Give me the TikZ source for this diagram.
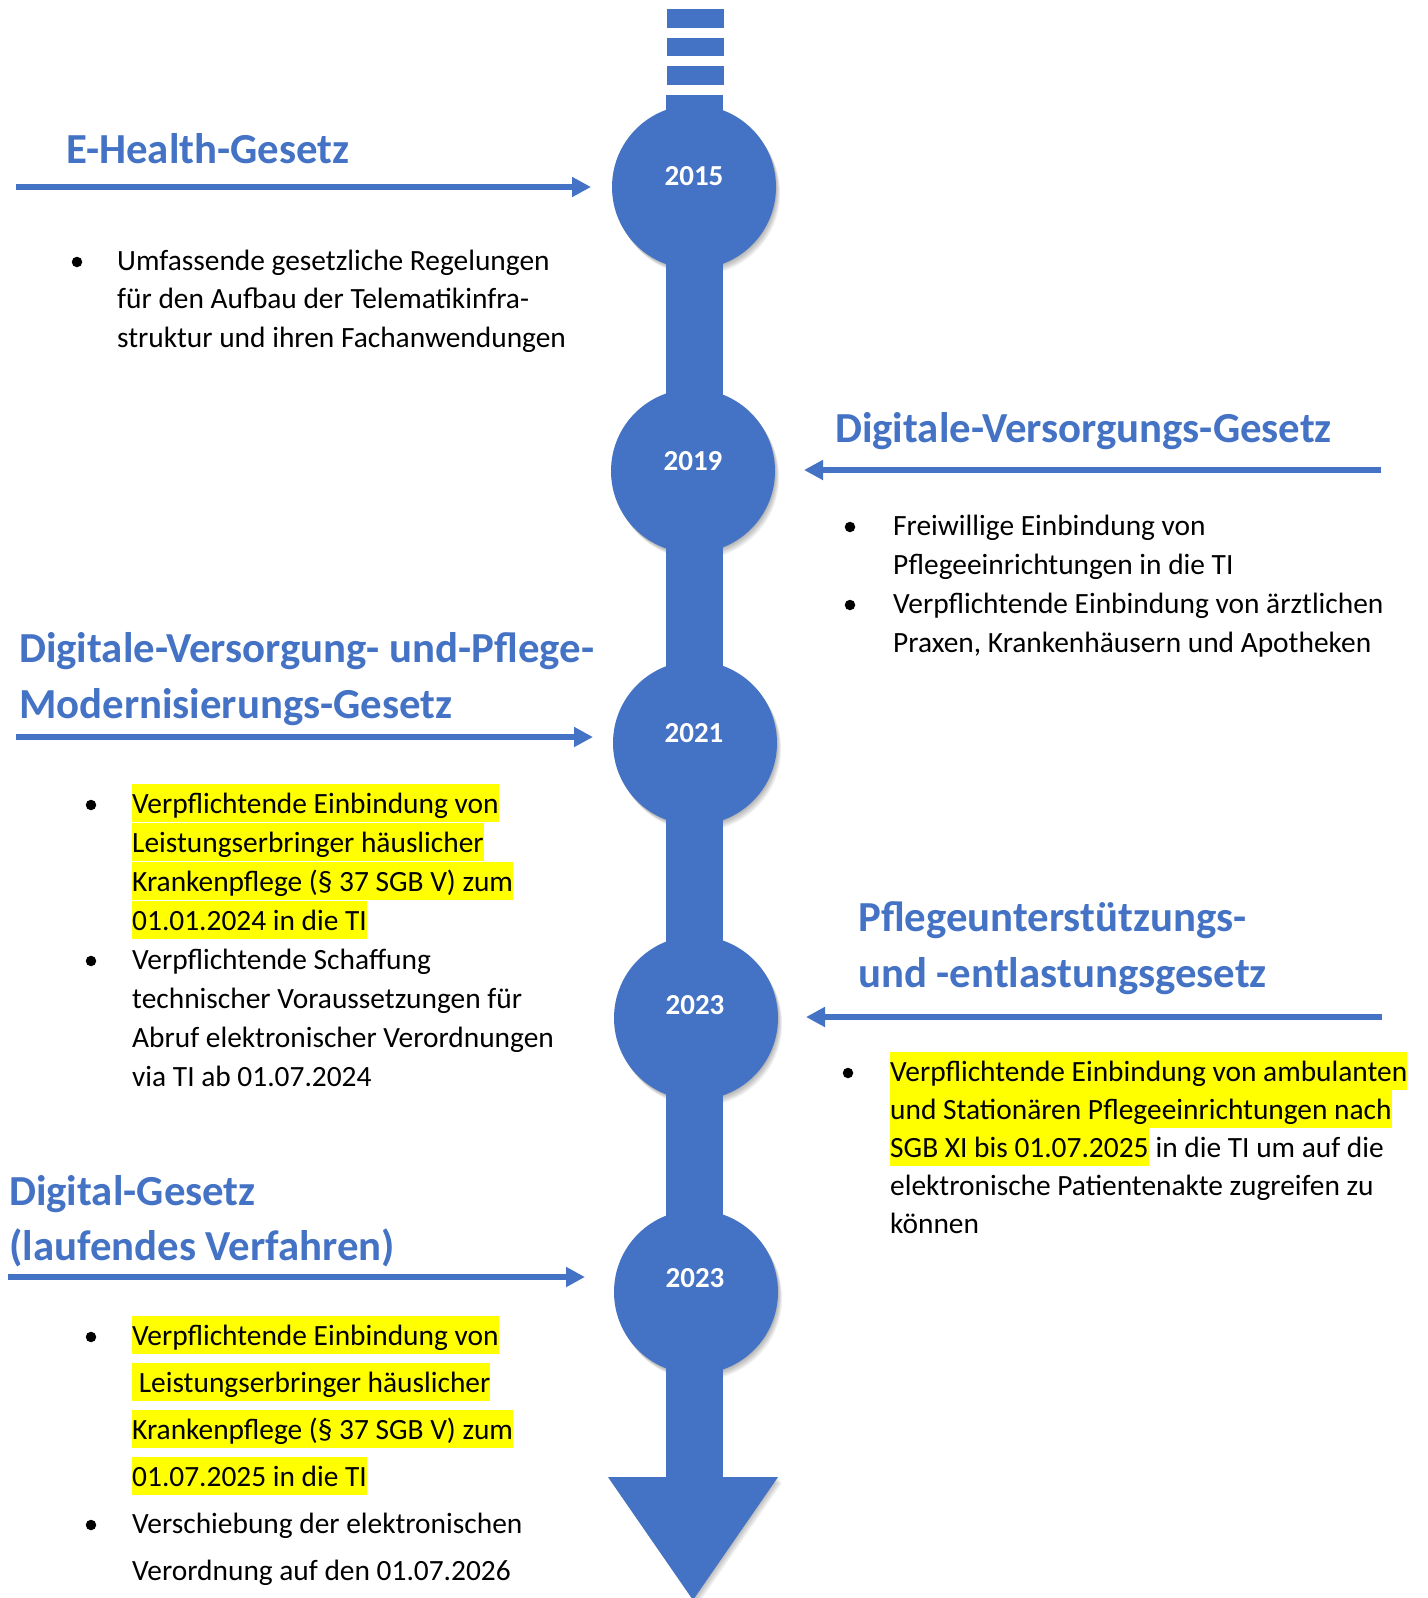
\documentclass[tikz,border=0pt]{standalone}
\usepackage{fontspec}
\setmainfont{Carlito}
\usetikzlibrary{arrows.meta}
\definecolor{tblue}{HTML}{4472C4}
\definecolor{hlyel}{HTML}{FFFF00}
\begin{document}
\begin{tikzpicture}[x=1pt,y=-1pt,
  title/.style={anchor=base west, inner sep=0pt, font=\fontsize{42.8}{50}\selectfont\bfseries, text=tblue},
  body/.style={anchor=base west, inner sep=0pt, font=\fontsize{29.4}{35}\selectfont},
  hlbody/.style={body, fill=hlyel, text height=29pt, text depth=8.5pt},
  bul/.style={circle, fill=black, inner sep=0pt, minimum size=10.5pt},
  year/.style={font=\fontsize{29}{35}\selectfont\bfseries, text=white, inner sep=0pt},
  ball/.style={circle, fill=tblue, inner sep=0pt, minimum size=164pt},
  conn/.style={draw=tblue, line width=6pt, -{Triangle[length=19pt,width=19pt]}},
  shad/.style={fill=black, opacity=0.045},
]
\fill[white] (0,0) rectangle (1427,1598);
\useasboundingbox (0,0) rectangle (1427,1598);

% shadows
\foreach \cx/\cy in {694/187, 693/471, 695/743, 696/1018, 696/1292}{
  \foreach \d in {1,...,7}{
    \fill[shad] (\cx+\d*0.6,\cy+\d*0.9) circle (82);
  }
}
\foreach \d in {1,...,6}{
  \fill[shad] (608+\d*0.7,1477+\d) -- (778+\d*0.7,1477+\d) -- (693+\d*0.7,1600+\d) -- cycle;
}

% timeline
\fill[tblue] (608,1477) -- (778,1477) -- (693,1600) -- cycle;
\fill[tblue] (666,95) rectangle (723,1478);
\fill[tblue] (667,9) rectangle (724,28);
\fill[tblue] (667,38) rectangle (724,56);
\fill[tblue] (667,66) rectangle (724,85);

\node[ball] (c1) at (694,187) {};
\node[ball] (c2) at (693,471) {};
\node[ball] (c3) at (695,743) {};
\node[ball] (c4) at (696,1018) {};
\node[ball] (c5) at (696,1292) {};
\node[year] (y1) at (694,176) {2015};
\node[year] (y2) at (693,461) {2019};
\node[year] (y3) at (694,733) {2021};
\node[year] (y4) at (695,1005) {2023};
\node[year] (y5) at (695,1278) {2023};

% arrows
\coordinate (s1) at (16,187);   \coordinate (e1) at (591,187);
\coordinate (s2) at (1381,470); \coordinate (e2) at (804,470);
\coordinate (s3) at (16,737);   \coordinate (e3) at (593,737);
\coordinate (s4) at (1382,1017);\coordinate (e4) at (806,1017);
\coordinate (s5) at (8,1277);   \coordinate (e5) at (585,1277);
\draw[conn] (s1) -- (e1);
\draw[conn] (s2) -- (e2);
\draw[conn] (s3) -- (e3);
\draw[conn] (s4) -- (e4);
\draw[conn] (s5) -- (e5);

% titles
\node[title] (t1) at (66,163) {E-Health-Gesetz};
\node[title] (t2) at (835,442) {Digitale-Versorgungs-Gesetz};
\node[title] (t3a) at (19,662) {Digitale-Versorgung- und-Pflege-};
\node[title] (t3b) at (19,718) {Modernisierungs-Gesetz};
\node[title] (t4a) at (858,931) {Pflegeunterstützungs-};
\node[title] (t4b) at (858,987) {und -entlastungsgesetz};
\node[title] (t5a) at (9,1205) {Digital-Gesetz};
\node[title] (t5b) at (9,1260) {(laufendes Verfahren)};

% block 1
\node[bul] (b11) at (77,262) {};
\node[body] (l11) at (117,270) {Umfassende gesetzliche Regelungen};
\node[body] (l12) at (117,308.5) {für den Aufbau der Telematikinfra-};
\node[body] (l13) at (117,347) {struktur und ihren Fachanwendungen};

% block 2
\node[bul] (b21) at (850,527) {};
\node[body] (l21) at (893,535) {Freiwillige Einbindung von};
\node[body] (l22) at (893,574) {Pflegeeinrichtungen in die TI};
\node[bul] (b22) at (850,605) {};
\node[body] (l23) at (893,613) {Verpflichtende Einbindung von ärztlichen};
\node[body] (l24) at (893,652) {Praxen, Krankenhäusern und Apotheken};

% block 3
\node[bul] (b31) at (91,805) {};
\node[hlbody] (l31) at (132,813) {Verpflichtende Einbindung von};
\node[hlbody] (l32) at (132,852) {Leistungserbringer häuslicher};
\node[hlbody] (l33) at (132,891) {Krankenpflege (§ 37 SGB V) zum};
\node[hlbody] (l34) at (132,930) {01.01.2024 in die TI};
\node[bul] (b32) at (91,961) {};
\node[body] (l35) at (132,969) {Verpflichtende Schaffung};
\node[body] (l36) at (132,1008) {technischer Voraussetzungen für};
\node[body] (l37) at (132,1047) {Abruf elektronischer Verordnungen};
\node[body] (l38) at (132,1086) {via TI ab 01.07.2024};

% block 4
\node[bul] (b41) at (848,1073) {};
\node[hlbody] (l41) at (890,1081) {Verpflichtende Einbindung von ambulanten};
\node[hlbody] (l42) at (890,1119) {und Stationären Pflegeeinrichtungen nach};
\node[hlbody] (l43) at (890,1157) {SGB XI bis 01.07.2025};
\node[body] (l43b) at (l43.base east) {\ in die TI um auf die};
\node[body] (l44) at (890,1195) {elektronische Patientenakte zugreifen zu};
\node[body] (l45) at (890,1233) {können};

% block 5
\node[bul] (b51) at (91,1337) {};
\node[hlbody] (l51) at (132,1345) {Verpflichtende Einbindung von};
\node[hlbody] (l52) at (132,1392) {\ Leistungserbringer häuslicher};
\node[hlbody] (l53) at (132,1439) {Krankenpflege (§ 37 SGB V) zum};
\node[hlbody] (l54) at (132,1486) {01.07.2025 in die TI};
\node[bul] (b52) at (91,1525) {};
\node[body] (l55) at (132,1533) {Verschiebung der elektronischen};
\node[body] (l56) at (132,1580) {Verordnung auf den 01.07.2026};
\end{tikzpicture}
\end{document}
